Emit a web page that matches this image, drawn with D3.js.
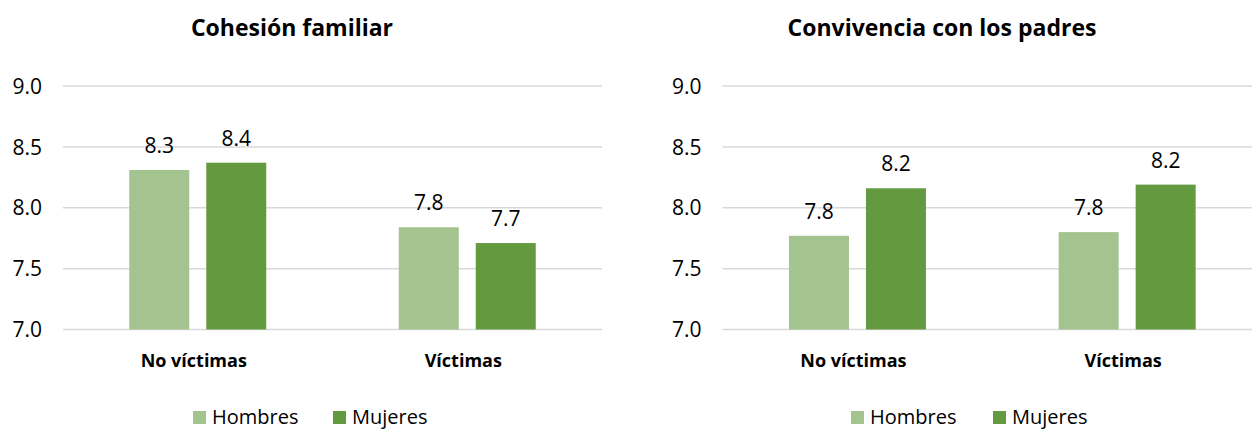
<!DOCTYPE html>
<html><head><meta charset="utf-8">
<script src="https://cdn.jsdelivr.net/npm/d3@7"></script>
<style>
body{margin:0;background:#fff;}
svg text{font-family:"Open Sans",sans-serif;fill:#000;}
</style></head>
<body>
<svg id="c" width="1252" height="430"></svg>
<script>
const categories = ["No víctimas", "Víctimas"];
const seriesNames = ["Hombres", "Mujeres"];
const titles = ["Cohesión familiar", "Convivencia con los padres"];
const cohesionHombres = [8.31, 7.84];
const cohesionMujeres = [8.37, 7.71];
const convivenciaHombres = [7.77, 7.80];
const convivenciaMujeres = [8.16, 8.19];
const cohesionLabels = [["8.3", "7.8"], ["8.4", "7.7"]];
const convivenciaLabels = [["7.8", "7.8"], ["8.2", "8.2"]];
const yTicks = [7.0, 7.5, 8.0, 8.5, 9.0];
const colors = ["#A3C48F", "#639A3F"];

const svg = d3.select("#c");
const panels = [
  {title: titles[0], values: [cohesionHombres, cohesionMujeres], labels: cohesionLabels,
   x0: 63, x1: 602, titleX: 292, legendX: [193, 333]},
  {title: titles[1], values: [convivenciaHombres, convivenciaMujeres], labels: convivenciaLabels,
   x0: 722.6, x1: 1262, titleX: 942, legendX: [851, 993]}
];
const y = d3.scaleLinear().domain([7, 9]).range([329.5, 86]);

panels.forEach(p => {
  const g = svg.append("g");
  const x = d3.scaleBand().domain(categories).range([p.x0, p.x1]).padding(0);
  const groupW = 137;
  const xs = d3.scaleBand().domain(seriesNames).range([0, groupW]).paddingInner(0.2208).paddingOuter(0);

  // gridlines
  g.selectAll("line.grid").data(yTicks).join("line")
    .attr("x1", p.x0).attr("x2", p.x1)
    .attr("y1", d => y(d)).attr("y2", d => y(d))
    .attr("stroke", "#d9d9d9").attr("stroke-width", 1.5);

  // y tick labels
  const yAxis = d3.axisLeft(y).tickValues(yTicks).tickFormat(d3.format(".1f")).tickSize(0).tickPadding(0);
  const ya = g.append("g").attr("transform", `translate(${p.x0 - 21},0)`).call(yAxis);
  ya.select(".domain").remove();
  ya.selectAll("text").attr("font-size", 21).attr("font-family", "Open Sans").attr("fill", "#000").attr("dy", "0.34em");

  // bars
  seriesNames.forEach((s, si) => {
    g.selectAll("rect.s" + si).data(categories).join("rect")
      .attr("x", (c) => x(c) + (x.bandwidth() - groupW) / 2 + xs(s))
      .attr("width", xs.bandwidth())
      .attr("y", (c, i) => y(p.values[si][i]))
      .attr("height", (c, i) => y(7) - y(p.values[si][i]))
      .attr("fill", colors[si]);
    g.selectAll("text.l" + si).data(categories).join("text")
      .attr("x", (c) => x(c) + (x.bandwidth() - groupW) / 2 + xs(s) + xs.bandwidth() / 2)
      .attr("y", (c, i) => y(p.values[si][i]) - 17)
      .attr("text-anchor", "middle").attr("font-size", 21)
      .text((c, i) => p.labels[si][i]);
  });

  // x axis labels
  const xAxis = d3.axisBottom(x).tickSize(0).tickPadding(0);
  const xa = g.append("g").attr("transform", `translate(-4,${y(7) + 37})`).call(xAxis);
  xa.select(".domain").remove();
  xa.selectAll("text").attr("font-size", 18).attr("font-weight", "bold").attr("font-family", "Open Sans").attr("fill", "#000").attr("dy", 0);

  // title
  g.append("text").attr("x", p.titleX).attr("y", 36).attr("text-anchor", "middle")
    .attr("font-size", 23).attr("font-weight", "bold").text(p.title);

  // legend
  seriesNames.forEach((s, si) => {
    g.append("rect").attr("x", p.legendX[si]).attr("y", 411).attr("width", 13).attr("height", 13).attr("fill", colors[si]);
    g.append("text").attr("x", p.legendX[si] + 19).attr("y", 424).attr("font-size", 20).text(s);
  });
});
</script>
</body></html>
